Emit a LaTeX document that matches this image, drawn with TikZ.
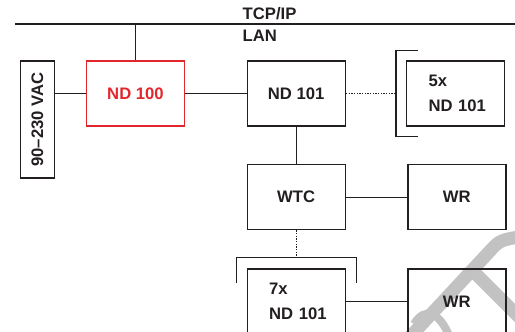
\documentclass[tikz,border=0pt]{standalone}
\usepackage{fontspec}
\setmainfont{Liberation Sans}
\usetikzlibrary{positioning}
\definecolor{accent}{HTML}{E3262B}
\definecolor{ink}{HTML}{231F20}
\definecolor{wmgrey}{HTML}{C2C2C2}

\begin{document}
\begin{tikzpicture}[x=0.75pt,y=-0.75pt,line width=1pt,
      font=\fontsize{12.5}{18.75}\selectfont\bfseries,
      node distance=28pt and 46pt,
      b/.style={rectangle,draw=ink,text=ink,inner sep=0pt,
                minimum width=73.5pt,minimum height=48.75pt},
      hub/.style={b,draw=accent,text=accent},
      grp/.style={b,text width=40.5pt,align=left},
      l/.style={draw=ink},
      dot/.style={draw=ink,densely dotted},
      wm/.style={draw=wmgrey,line width=9.75pt}]
      \useasboundingbox (0,0) rectangle (515,332);
      % watermark
      \begin{scope}
        \clip (0,0) rectangle (515,332);
        \draw[wm] (525,236) .. controls (500,240) .. (489,252) -- (409,338);
        \draw[wm] (470,268) -- (520,318);
        \draw[wm,line width=6pt] (414,324) .. controls (425,306) and (440,312) .. (450,338);
      \end{scope}
      \coordinate (lanw) at (15,24);
      \coordinate (lane) at (515,24);
      \node[anchor=base west,inner sep=0pt,text=ink] (tcp) at (242,20) {TCP/IP};
      \node[anchor=base west,inner sep=0pt,text=ink] (lan) at (242,41) {LAN};
      \node[hub]  (nd100) at (135.5,93.5) {ND 100};
      \node[b,minimum width=25.5pt,minimum height=87.75pt] (vac)
            [left=23pt of nd100.north west,anchor=north east] {\rotatebox{90}{90--230 VAC}};
      \node[b]    (nd101) [right=of nd100]       {ND 101};
      \node[grp]  (five)  [right=45pt of nd101]  {5x\\ND~101};
      \node[b]    (wtc)   [below=of nd101]       {WTC};
      \node[b]    (wr1)   [right=of wtc]         {WR};
      \node[grp]  (seven) [below=28.5pt of wtc]  {7x\\ND~101};
      \node[b]    (wr2)   [right=of seven]       {WR};
      \coordinate[left=7.5pt of five] (fivebr);
      \coordinate[above=8.25pt of seven] (sevenbr);
      \draw[l] (lanw) -- (lane);
      \draw[l] (nd100.north) -- (nd100.north |- lanw);
      \draw[l] (vac.east |- nd100) -- (nd100); \draw[l] (nd100) -- (nd101);
      \draw[dot] (nd101) -- (fivebr);
      \draw[l] (fivebr) ++(16.5pt,32.25pt) -| ++(-16.5pt,-64.5pt) -- ++(16.5pt,0);
      \draw[l] (nd101) -- (wtc); \draw[l] (wtc) -- (wr1);
      \draw[dot] (wtc) -- (sevenbr);
      \draw[l] (sevenbr) ++(-45pt,-19.5pt) |- ++(90pt,19.5pt) -- ++(0,-19.5pt);
      \draw[l] (seven) -- (wr2);
    \end{tikzpicture}
\end{document}
